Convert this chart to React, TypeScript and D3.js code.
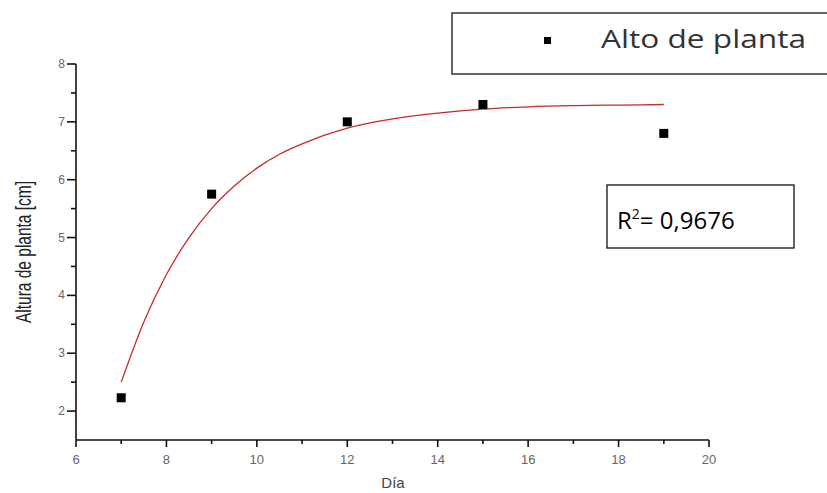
import React from "react";
import * as d3 from "d3";

const days = [7, 9, 12, 15, 19];
const heights = [2.23, 5.75, 7.0, 7.3, 6.8];

const fitDays = [7, 7.5, 8, 8.5, 9, 9.5, 10, 10.5, 11, 12, 13, 14, 15, 16, 17, 18, 19];
const fitHeights = [2.5, 3.54, 4.36, 5.0, 5.5, 5.89, 6.2, 6.44, 6.62, 6.89, 7.05, 7.15, 7.22, 7.26, 7.28, 7.29, 7.3];

const xMajorTicks = [6, 8, 10, 12, 14, 16, 18, 20];
const xMinorTicks = [7, 9, 11, 13, 15, 17, 19];
const yMajorTicks = [2, 3, 4, 5, 6, 7, 8];
const yMinorTicks = [2.5, 3.5, 4.5, 5.5, 6.5, 7.5];

const xTitle = "Día";
const yTitle = "Altura de planta [cm]";
const legendLabel = "Alto de planta";
const r2Label = "0,9676";

const W = 827;
const H = 493;

export default function App() {
  const x = d3.scaleLinear().domain([6, 20]).range([76, 709]);
  const y = d3.scaleLinear().domain([1.5, 8]).range([440, 64]);

  const line = d3
    .line<number>()
    .x((_, i) => x(fitDays[i]))
    .y((d) => y(d))
    .curve(d3.curveMonotoneX);

  const tickFont = "'Liberation Sans', Arial, sans-serif";
  const sq = 9;

  return (
    <svg
      width={W}
      height={H}
      viewBox={`0 0 ${W} ${H}`}
      style={{ position: "absolute", left: 0, top: 0, background: "#fff" }}
    >
      <rect x={0} y={0} width={W} height={H} fill="#fff" />

      {/* axes */}
      <line x1={x(6)} x2={x(20)} y1={y(1.5)} y2={y(1.5)} stroke="#111" strokeWidth={1.6} />
      <line x1={x(6)} x2={x(6)} y1={y(1.5)} y2={y(8)} stroke="#111" strokeWidth={1.6} />

      {xMajorTicks.map((t) => (
        <g key={"xM" + t}>
          <line x1={x(t)} x2={x(t)} y1={y(1.5)} y2={y(1.5) + 7} stroke="#111" strokeWidth={1.6} />
          <text
            x={x(t)}
            y={y(1.5) + 24}
            textAnchor="middle"
            fontFamily={tickFont}
            fontSize={13}
            fill="#666"
          >
            {t}
          </text>
        </g>
      ))}
      {xMinorTicks.map((t) => (
        <line key={"xm" + t} x1={x(t)} x2={x(t)} y1={y(1.5)} y2={y(1.5) + 4} stroke="#111" strokeWidth={1.6} />
      ))}

      {yMajorTicks.map((t) => (
        <g key={"yM" + t}>
          <line x1={x(6) - 9} x2={x(6)} y1={y(t)} y2={y(t)} stroke="#111" strokeWidth={1.6} />
          <text
            x={x(6) - 11}
            y={y(t) + 4}
            textAnchor="end"
            fontFamily={tickFont}
            fontSize={12}
            fill="#666"
          >
            {t}
          </text>
        </g>
      ))}
      {yMinorTicks.map((t) => (
        <line key={"ym" + t} x1={x(6) - 5} x2={x(6)} y1={y(t)} y2={y(t)} stroke="#111" strokeWidth={1.6} />
      ))}

      {/* axis titles */}
      <text
        x={393}
        y={488}
        textAnchor="middle"
        fontFamily={tickFont}
        fontSize={15}
        fill="#444"
      >
        {xTitle}
      </text>
      <text
        transform={`translate(31, 252) rotate(-90)`}
        textAnchor="middle"
        fontFamily={tickFont}
        fontSize={22}
        textLength={142}
        lengthAdjust="spacingAndGlyphs"
        fill="#222"
      >
        {yTitle}
      </text>

      {/* fitted curve */}
      <path d={line(fitHeights) || ""} fill="none" stroke="#c82828" strokeWidth={1.3} />

      {/* data points */}
      {days.map((d, i) => (
        <rect
          key={"p" + d}
          x={x(d) - sq / 2}
          y={y(heights[i]) - sq / 2}
          width={sq}
          height={sq}
          fill="#000"
        />
      ))}

      {/* legend */}
      <rect x={452} y={13} width={400} height={61} fill="#fff" stroke="#333" strokeWidth={1.5} />
      <rect x={544} y={37} width={7} height={7} fill="#000" />
      <text
        x={601}
        y={48}
        fontFamily="'Open Sans', sans-serif"
        fontSize={25}
        textLength={205}
        lengthAdjust="spacingAndGlyphs"
        fill="#333"
      >
        {legendLabel}
      </text>

      {/* R² box */}
      <rect x={607} y={185} width={187} height={63} fill="#fff" stroke="#111" strokeWidth={1.3} />
      <text x={617} y={229} fontFamily="'Open Sans', sans-serif" fontSize={24} fill="#000">
        R
        <tspan fontSize={14} dy={-10}>
          2
        </tspan>
        <tspan dy={10}>{"= " + r2Label}</tspan>
      </text>
    </svg>
  );
}
